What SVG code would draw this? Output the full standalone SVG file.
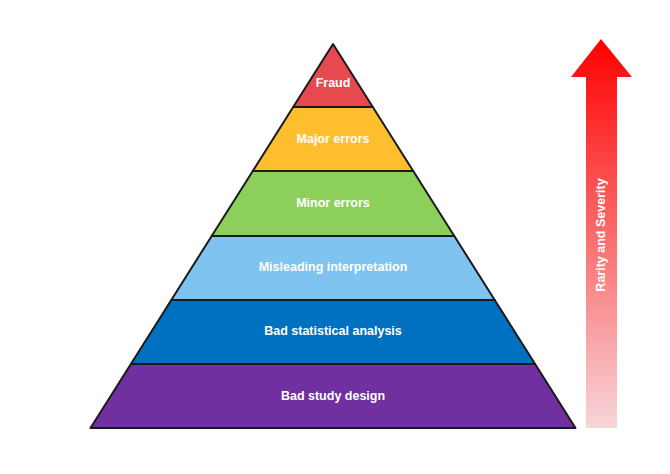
<svg xmlns="http://www.w3.org/2000/svg" width="670" height="474" viewBox="0 0 670 474">
<style>
.l{stroke:#1a1a1a;stroke-width:2;stroke-linejoin:round}
.t{font-family:"Liberation Sans Narrow","Liberation Sans",Arial,sans-serif;font-weight:bold;font-size:12.5px;fill:#fff;text-anchor:middle;dominant-baseline:middle}
</style>
<defs>
<linearGradient id="g" x1="0" y1="0" x2="0" y2="1">
<stop offset="0" stop-color="#ff0000"/>
<stop offset="1" stop-color="#f6d6d9"/>
</linearGradient>
</defs>
<rect width="670" height="474" fill="#fff"/>
<g id="fraud"><polygon class="l" fill="#e64a4f" points="333,44 372.8,107 293.2,107"/><text class="t" x="333" y="84">Fraud</text></g>
<g id="major"><polygon class="l" fill="#ffbe2e" points="293.2,107 372.8,107 413.2,171 252.8,171"/><text class="t" x="333" y="140">Major errors</text></g>
<g id="minor"><polygon class="l" fill="#8ccf5a" points="252.8,171 413.2,171 454.3,236 211.7,236"/><text class="t" x="333" y="204">Minor errors</text></g>
<g id="misleading"><polygon class="l" fill="#7fc3f0" points="211.7,236 454.3,236 494.7,300 171.3,300"/><text class="t" x="333" y="268">Misleading interpretation</text></g>
<g id="badstat"><polygon class="l" fill="#0070c0" points="171.3,300 494.7,300 535.1,364 130.9,364"/><text class="t" x="333" y="332">Bad statistical analysis</text></g>
<g id="baddesign"><polygon class="l" fill="#7030a0" points="130.9,364 535.1,364 575.5,428 90.5,428"/><text class="t" x="333" y="397">Bad study design</text></g>
<g id="arrow">
<polygon fill="url(#g)" points="601,39 632,77 617,77 617,428 586,428 586,77 571,77"/>
<text class="t" transform="translate(602,235) rotate(-90)">Rarity and Severity</text>
</g>
<g id="connectors"></g>
</svg>
